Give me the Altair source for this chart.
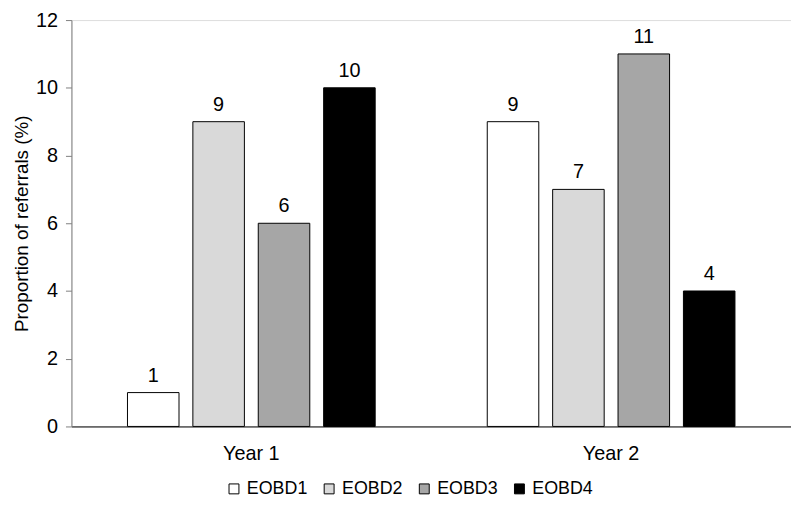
import altair as alt
import pandas as pd

years = ["Year 1", "Year 2"]
series = ["EOBD1", "EOBD2", "EOBD3", "EOBD4"]
year1_values = [1, 9, 6, 10]
year2_values = [9, 7, 11, 4]
colors = ["#ffffff", "#d9d9d9", "#a6a6a6", "#000000"]

rows = []
for yr, vals in zip(years, [year1_values, year2_values]):
    for s, v in zip(series, vals):
        rows.append({"year": yr, "series": s, "value": v})
df = pd.DataFrame(rows)

FONT = "Liberation Sans"

x_enc = alt.X(
    "year:N",
    sort=years,
    scale=alt.Scale(paddingInner=0.273, paddingOuter=0.1365),
    axis=alt.Axis(
        title=None, labelAngle=0, ticks=False, domainColor="#000000",
        labelFontSize=20, labelColor="#000000", labelFont=FONT, labelPadding=17,
    ),
)
xoff = alt.XOffset(
    "series:N", sort=series,
    scale=alt.Scale(paddingInner=0.212, paddingOuter=0.106),
)
y_enc = alt.Y(
    "value:Q",
    scale=alt.Scale(domain=[0, 12], nice=False),
    axis=alt.Axis(
        title="Proportion of referrals (%)", values=[0, 2, 4, 6, 8, 10, 12],
        grid=False, domainColor="#808080", tickColor="#808080", tickSize=6,
        labelFontSize=20, labelColor="#000000", labelFont=FONT, labelPadding=8,
        titleFontSize=19, titleFontWeight="normal", titleColor="#000000",
        titleFont=FONT, titlePadding=4,
    ),
)

bars = alt.Chart(df).mark_bar(stroke="#000000", strokeWidth=1).encode(
    x=x_enc,
    xOffset=xoff,
    y=y_enc,
    fill=alt.Fill(
        "series:N", sort=series,
        scale=alt.Scale(domain=series, range=colors),
        legend=alt.Legend(
            title=None, orient="none", direction="horizontal", columns=4,
            legendX=155, legendY=464, symbolType="square", symbolSize=100,
            symbolStrokeColor="#000000", symbolStrokeWidth=1,
            labelFontSize=18, labelFont=FONT, labelColor="#000000",
            labelOffset=4, columnPadding=12, symbolOpacity=1,
        ),
    ),
)

labels = alt.Chart(df).mark_text(
    baseline="bottom", dy=-7, fontSize=20, font=FONT, color="#000000"
).encode(
    x=alt.X("year:N", sort=years),
    xOffset=alt.XOffset("series:N", sort=series),
    y=alt.Y("value:Q"),
    text=alt.Text("value:Q"),
)

chart = alt.layer(bars, labels).properties(
    width=726, height=410,
    autosize=alt.AutoSizeParams(type="none"),
    padding={"left": 64, "top": 10, "right": 0, "bottom": 70},
).configure_view(stroke=None).configure(background="#ffffff")

chart.save("out.html", embed_options={"renderer": "svg", "actions": False})
